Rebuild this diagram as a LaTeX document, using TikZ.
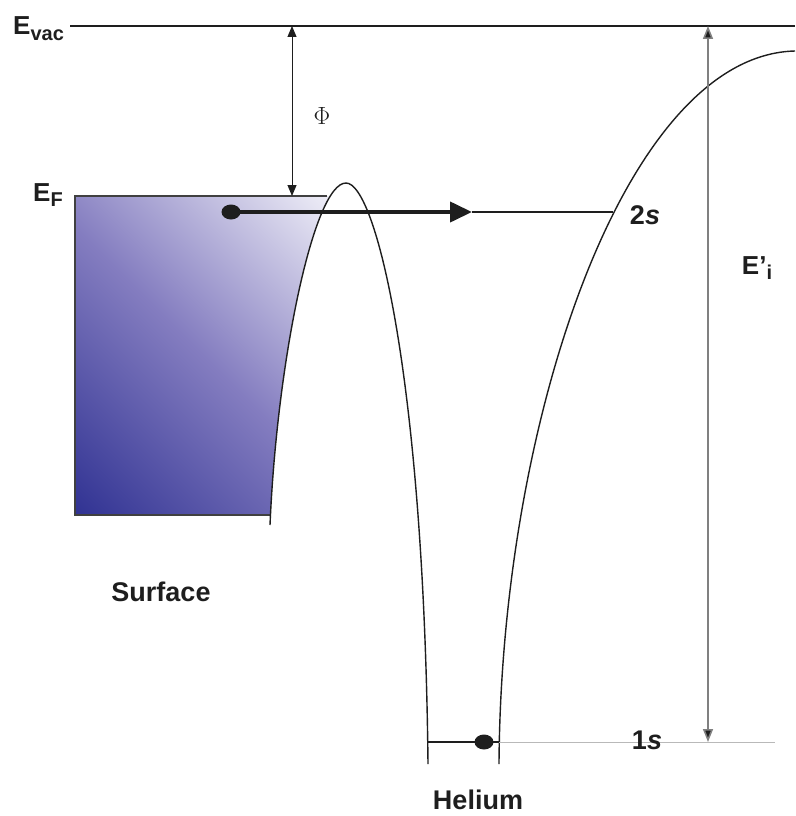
\documentclass[tikz,border=0pt]{standalone}
\usepackage{fontspec}
\setmainfont{Liberation Sans}
\newfontfamily\seriffont{Liberation Serif}
\usetikzlibrary{arrows.meta,shapes.geometric}
\definecolor{surfdark}{RGB}{40,43,142}
\definecolor{surfmid}{RGB}{132,125,192}
\definecolor{surflight}{RGB}{250,250,253}
\definecolor{levelgray}{RGB}{128,128,128}
\definecolor{lightline}{RGB}{185,185,185}
\definecolor{ink}{RGB}{30,30,30}
\pgfdeclareverticalshading{surfgrad}{100bp}{color(0bp)=(surfdark); color(11bp)=(surfdark); color(50bp)=(surfmid); color(89bp)=(surflight); color(100bp)=(surflight)}
\begin{document}
\begin{tikzpicture}[x=1pt,y=-1pt,
  lbl/.style={font=\fontsize{27}{30}\selectfont\bfseries, inner sep=0, text=ink},
  elbl/.style={font=\fontsize{26}{30}\selectfont\bfseries, inner sep=0, text=ink},
  curve/.style={draw=ink, line width=1.4},
  dot/.style={ellipse, fill=ink, minimum width=19, minimum height=15, inner sep=0},
  tipsmall/.style={{Triangle[length=11,width=9]}-{Triangle[length=11,width=9]}}]
\useasboundingbox (0,0) rectangle (795,816);

% coordinates
\coordinate (vacL) at (70,26);
\coordinate (vacR) at (795,26);
\coordinate (phiTop) at (292,26);
\coordinate (phiBot) at (292,196);
\coordinate (eiTop) at (708,26);
\coordinate (eiBot) at (708,742);
\coordinate (arrTip) at (472,212);
\coordinate (twoSR) at (613,212);
\coordinate (oneSL) at (427,742);
\coordinate (oneSM) at (499,742);
\coordinate (oneSR) at (775,742);
\coordinate (barL) at (270,525);
\coordinate (peak) at (346,183);
\coordinate (barR) at (428,764);
\coordinate (heB) at (499,764);
\coordinate (heT) at (795,51);

% surface band with gradient
\shade[shading=surfgrad, shading angle=-45] (75,196) rectangle (332,515);
\fill[white] (barL) .. controls (277,360) and (314,183) .. (peak) .. controls (376,183) and (424,380) .. (barR) -- cycle;
\draw[draw=ink!85, line width=1.2] (327,196) -- (75,196) -- (75,515) -- (271,515);

% vacuum level
\draw[draw=ink, line width=1.5] (vacL) -- (vacR);

% barrier
\draw[curve] (barL) .. controls (277,360) and (314,183) .. (peak) .. controls (376,183) and (424,380) .. (barR);

% helium well right wall
\draw[curve] (heB) .. controls (501,420) and (625,55) .. (heT);

% work function arrow
\draw[draw=ink, line width=1, tipsmall] (phiTop) -- (phiBot);
\node[font=\seriffont\fontsize{25}{28}\selectfont, inner sep=0, text=ink] (phi) at (322,116) {$\Phi$};

% ionisation energy arrow
\draw[draw=levelgray, line width=1.6, {Triangle[length=13,width=10,fill=ink]}-{Triangle[length=13,width=10,fill=ink]}] (eiTop) -- (eiBot);

% 2s level and transfer
\node[dot] (e2) at (231,212) {};
\draw[draw=ink, line width=1.2] (arrTip) -- (twoSR);
\draw[draw=ink, line width=4, -{Triangle[length=22,width=20]}] (e2.center) -- (arrTip);

% 1s level
\draw[draw=lightline, line width=1] (oneSM) -- (oneSR);
\draw[draw=ink, line width=1.5] (oneSL) -- (oneSM);
\node[dot] (e1) at (484,742) {};

% labels
\node[elbl, anchor=base west] (evac) at (13,35) {E\raisebox{-0.22em}{\fontsize{20}{20}\selectfont vac}};
\node[elbl, anchor=base west] (ef) at (33,201) {E\raisebox{-0.22em}{\fontsize{20}{20}\selectfont F}};
\node[elbl] (ei) at (757,268) {E’\raisebox{-0.22em}{\fontsize{20}{20}\selectfont i}};
\node[lbl] (s2) at (645,215) {2\textit{s}};
\node[lbl] (s1) at (647,740) {1\textit{s}};
\node[lbl] (surf) at (161,592) {Surface};
\node[lbl] (he) at (478,800) {Helium};
\end{tikzpicture}
\end{document}
